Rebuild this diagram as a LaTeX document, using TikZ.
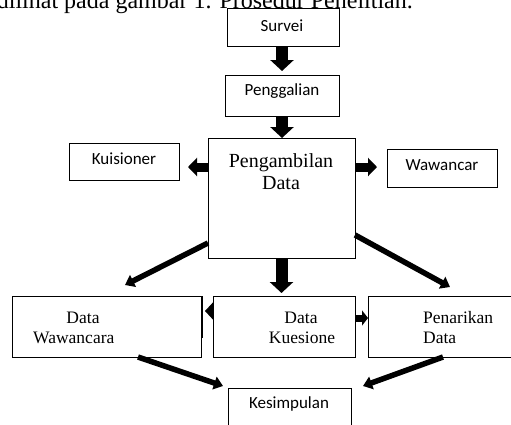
\documentclass[tikz,border=0pt]{standalone}
\usepackage{fontspec}
\setmainfont{Liberation Serif}
\newfontfamily\calib{Carlito}
\usetikzlibrary{arrows.meta,calc}
\begin{document}
\begin{tikzpicture}[x=1pt,y=-1pt,
  box/.style={draw,line width=0.9pt,inner sep=0pt,outer sep=0pt},
  sanslbl/.style={font=\calib\fontsize{17}{20}\selectfont,inner sep=0pt},
  seriflbl/.style={font=\fontsize{17.5}{20}\selectfont,inner sep=0pt},
  bigserif/.style={font=\fontsize{20}{22}\selectfont,inner sep=0pt,anchor=base},
  bigv/.style={line width=12pt,-{Triangle[width=23pt,length=11pt]}},
  sidearrow/.style={line width=9pt,-{Triangle[width=18pt,length=9pt]}},
  diagarrow/.style={line width=5.5pt,-{Triangle[width=13pt,length=9pt]}},
  smallarrow/.style={line width=7pt,-{Triangle[width=15pt,length=6pt]}},
  headonly/.style={line width=1pt,-{Triangle[width=17pt,length=8pt]}}]
\clip (0,0) rectangle (511,424);
\fill[white] (0,0) rectangle (511,424);

% cut-off text line at the top
\node[font=\fontsize{24}{27}\selectfont,inner sep=0pt,anchor=base east] (toptext) at (413,8) {dilihat pada gambar 1. Prosedur Penelitian.};

% boxes
\node[box,minimum width=112pt,minimum height=38pt] (survei) at (283,27) {};
\node[box,minimum width=114pt,minimum height=41pt] (pengg) at (282,95.5) {};
\node[box,minimum width=147pt,minimum height=120pt] (peng) at (281.5,198) {};
\node[box,minimum width=110pt,minimum height=37pt] (kuis) at (124,161.5) {};
\node[box,minimum width=110pt,minimum height=38pt] (wawan) at (442,168) {};
\node[box,minimum width=189pt,minimum height=61pt] (dw) at (106.5,326.5) {};
\node[box,minimum width=142pt,minimum height=61pt] (dk) at (284,326.5) {};
\node[box,minimum width=147pt,minimum height=61pt] (pd) at (441.5,326.5) {};
\node[box,minimum width=123pt,minimum height=44pt] (kes) at (289.5,410) {};
\draw[line width=0.9pt] ([xshift=1.5pt]dw.north east) -- ++(0,42);

% labels
\node[sanslbl] (tsurvei) at (282,26) {Survei};
\node[sanslbl] (tpengg) at (282,91) {Penggalian};
\node[sanslbl] (tkuis) at (124,159) {Kuisioner};
\node[sanslbl] (twawan) at (442,165) {Wawancar};
\node[sanslbl] (tkes) at (289,404) {Kesimpulan};
\node[bigserif] (tpeng1) at (281,167) {Pengambilan};
\node[bigserif] (tpeng2) at (281,189) {Data};
\node[seriflbl,anchor=base] (tdw1) at (83,323) {Data};
\node[seriflbl,anchor=base west] (tdw2) at (33,343) {Wawancara};
\node[seriflbl,anchor=base] (tdk1) at (301,323) {Data};
\node[seriflbl,anchor=base] (tdk2) at (302,343) {Kuesione};
\node[seriflbl,anchor=base west] (tpd1) at (423,323) {Penarikan};
\node[seriflbl,anchor=base west] (tpd2) at (423,343) {Data};

% row coordinates
\coordinate (r1) at (0,167);
\coordinate (r2) at (0,311);
\coordinate (r3) at (0,318);

% connectors
\draw[bigv,shorten >=4pt] (pengg.north |- survei.south) -- (pengg.north);
\draw[bigv] (pengg.south) -- (pengg.south |- peng.north);
\draw[sidearrow,shorten >=9pt] (peng.west |- r1) -- (kuis.east |- r1);
\draw[sidearrow,shorten >=10pt] (peng.east |- r1) -- (wawan.west |- r1);
\draw[bigv,shorten >=3pt] (peng.south) -- (peng.south |- dk.north);
\draw[diagarrow] ([yshift=-45pt]peng.west) -- ($(dw.north)+(18.5,-11)$);
\draw[diagarrow] ([yshift=-37pt]peng.east) -- ($(pd.north)+(8.5,-9)$);
\draw[headonly,shorten >=4pt] (dk.west |- r2) -- (dw.east |- r2);
\draw[smallarrow] (dk.east |- r3) -- (pd.west |- r3);
\draw[diagarrow] ($(dw.south)+(31.5,0)$) -- ($(kes.north west)+(-5,-2)$);
\draw[diagarrow] ($(pd.south)+(1.5,0)$) -- ($(kes.north east)+(12,-2)$);
\end{tikzpicture}
\end{document}
